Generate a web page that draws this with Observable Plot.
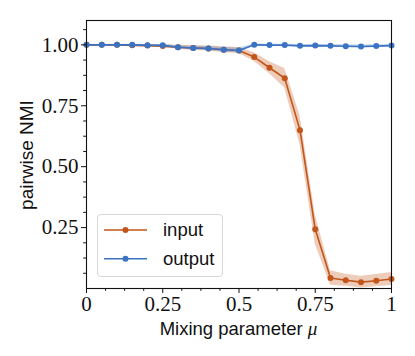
<!DOCTYPE html>
<html>
<head>
<meta charset="utf-8">
<script src="https://cdn.jsdelivr.net/npm/d3@7"></script>
<script src="https://cdn.jsdelivr.net/npm/@observablehq/plot@0.6"></script>
<style>
  html, body { margin: 0; padding: 0; background: #fff; }
  #wrap { position: relative; width: 415px; height: 356px; }
  .legend { position: absolute; left: 97px; top: 214px; width: 126px; height: 63px;
    border: 1px solid #d8d8d8; border-radius: 4px; background: rgba(255,255,255,0.8); box-sizing: border-box; }
</style>
</head>
<body>
<div id="wrap"></div>
<script>
// ---- data ----
const mu = [0, 0.05, 0.1, 0.15, 0.2, 0.25, 0.3, 0.35, 0.4, 0.45, 0.5,
            0.55, 0.6, 0.65, 0.7, 0.75, 0.8, 0.85, 0.9, 0.95, 1.0];
const inputMean = [1.0, 1.0, 1.0, 0.998, 0.997, 0.995, 0.99, 0.987, 0.985, 0.98, 0.977,
                   0.95, 0.906, 0.863, 0.65, 0.243, 0.043, 0.034, 0.026, 0.032, 0.039];
const inputStd  = [0.003, 0.003, 0.003, 0.004, 0.005, 0.006, 0.008, 0.01, 0.01, 0.012, 0.012,
                   0.018, 0.025, 0.04, 0.06, 0.06, 0.03, 0.025, 0.024, 0.025, 0.027];
const outputMean = [1.0, 1.0, 1.0, 1.0, 0.998, 0.998, 0.99, 0.987, 0.985, 0.98, 0.977,
                    1.0, 0.999, 0.999, 0.996, 0.997, 0.996, 0.994, 0.993, 0.995, 0.997];
const outputStd  = [0.002, 0.002, 0.002, 0.003, 0.003, 0.004, 0.006, 0.007, 0.008, 0.009, 0.01,
                    0.004, 0.004, 0.004, 0.005, 0.005, 0.005, 0.006, 0.006, 0.005, 0.004];
const seriesNames = ["input", "output"];
const seriesColors = ["#c2561a", "#3b73c4"];
const xTicks = [0, 0.25, 0.5, 0.75, 1];
const xTickLabels = ["0", "0.25", "0.5", "0.75", "1"];
const yTicks = [0.25, 0.5, 0.75, 1.0];
const yTickLabels = ["0.25", "0.50", "0.75", "1.00"];
const xMinor = d3.range(0, 1.0001, 0.0625).filter(v => !xTicks.some(t => Math.abs(t - v) < 1e-9));
const yMinor = d3.range(0.0625, 1.1, 0.0625).filter(v => !yTicks.some(t => Math.abs(t - v) < 1e-9));

const rows = (mean, std, name) => mu.map((m, i) => ({mu: m, y: mean[i], lo: mean[i] - std[i], hi: mean[i] + std[i], s: name}));
const inputRows = rows(inputMean, inputStd, "input");
const outputRows = rows(outputMean, outputStd, "output");

const serif = "'Liberation Serif', 'DejaVu Serif', serif";
const sans = "'Liberation Sans', 'DejaVu Sans', sans-serif";

const plot = Plot.plot({
  width: 415, height: 356,
  marginLeft: 86, marginRight: 24, marginTop: 20, marginBottom: 68,
  style: {fontFamily: serif, background: "white", overflow: "visible"},
  x: {domain: [0, 1]},
  y: {domain: [0, 1.1]},
  marks: [
    Plot.areaY(inputRows, {x: "mu", y1: "lo", y2: "hi", fill: seriesColors[0], fillOpacity: 0.3}),
    Plot.line(inputRows, {x: "mu", y: "y", stroke: seriesColors[0], strokeWidth: 1.6}),
    Plot.dot(inputRows, {x: "mu", y: "y", fill: seriesColors[0], r: 3}),
    Plot.areaY(outputRows, {x: "mu", y1: "lo", y2: "hi", fill: seriesColors[1], fillOpacity: 0.3}),
    Plot.line(outputRows, {x: "mu", y: "y", stroke: seriesColors[1], strokeWidth: 1.6}),
    Plot.dot(outputRows, {x: "mu", y: "y", fill: seriesColors[1], r: 3}),
    Plot.axisX(xTicks, {tickSize: 5, tickPadding: 3, tickFormat: (d, i) => xTickLabels[xTicks.indexOf(d)],
      fontSize: 21, fontFamily: serif, fill: "#111", stroke: "#111", label: null}),
    Plot.axisX(xMinor, {tickSize: 2.8, tickFormat: () => "", label: null, stroke: "#111"}),
    Plot.axisY(yTicks, {tickSize: 5, tickPadding: 3, tickFormat: d => yTickLabels[yTicks.indexOf(d)],
      fontSize: 21, fontFamily: serif, fill: "#111", stroke: "#111", label: null}),
    Plot.axisY(yMinor, {tickSize: 2.8, tickFormat: () => "", label: null, stroke: "#111"}),
    Plot.frame({stroke: "#111", strokeWidth: 1.1})
  ]
});

const wrap = document.getElementById("wrap");
wrap.appendChild(plot);

// axis titles
const svg = d3.select(plot);
const xl = svg.append("text").attr("x", 238.5).attr("y", 335).attr("text-anchor", "middle")
  .attr("font-family", sans).attr("font-size", 18.5).attr("fill", "#111");
xl.append("tspan").text("Mixing parameter ");
xl.append("tspan").attr("font-family", serif).attr("font-style", "italic").attr("font-size", 19).text("μ");
svg.append("text").attr("transform", "translate(33,155) rotate(-90)").attr("text-anchor", "middle")
  .attr("font-family", sans).attr("font-size", 19).attr("fill", "#111").text("pairwise NMI");

// legend
const leg = document.createElement("div");
leg.className = "legend";
wrap.appendChild(leg);
const lsvg = d3.select(leg).append("svg").attr("width", 126).attr("height", 63).style("position", "absolute").style("left", "-1px").style("top", "-1px");
seriesNames.forEach((name, i) => {
  const cy = 16 + i * 28.7;
  lsvg.append("line").attr("x1", 7).attr("x2", 50).attr("y1", cy).attr("y2", cy)
    .attr("stroke", seriesColors[i]).attr("stroke-width", 1.6);
  lsvg.append("circle").attr("cx", 28.5).attr("cy", cy).attr("r", 3).attr("fill", seriesColors[i]);
  lsvg.append("text").attr("x", 66).attr("y", cy + 6).attr("font-family", sans).attr("font-size", 18.5)
    .attr("fill", "#111").text(name);
});
</script>
</body>
</html>
